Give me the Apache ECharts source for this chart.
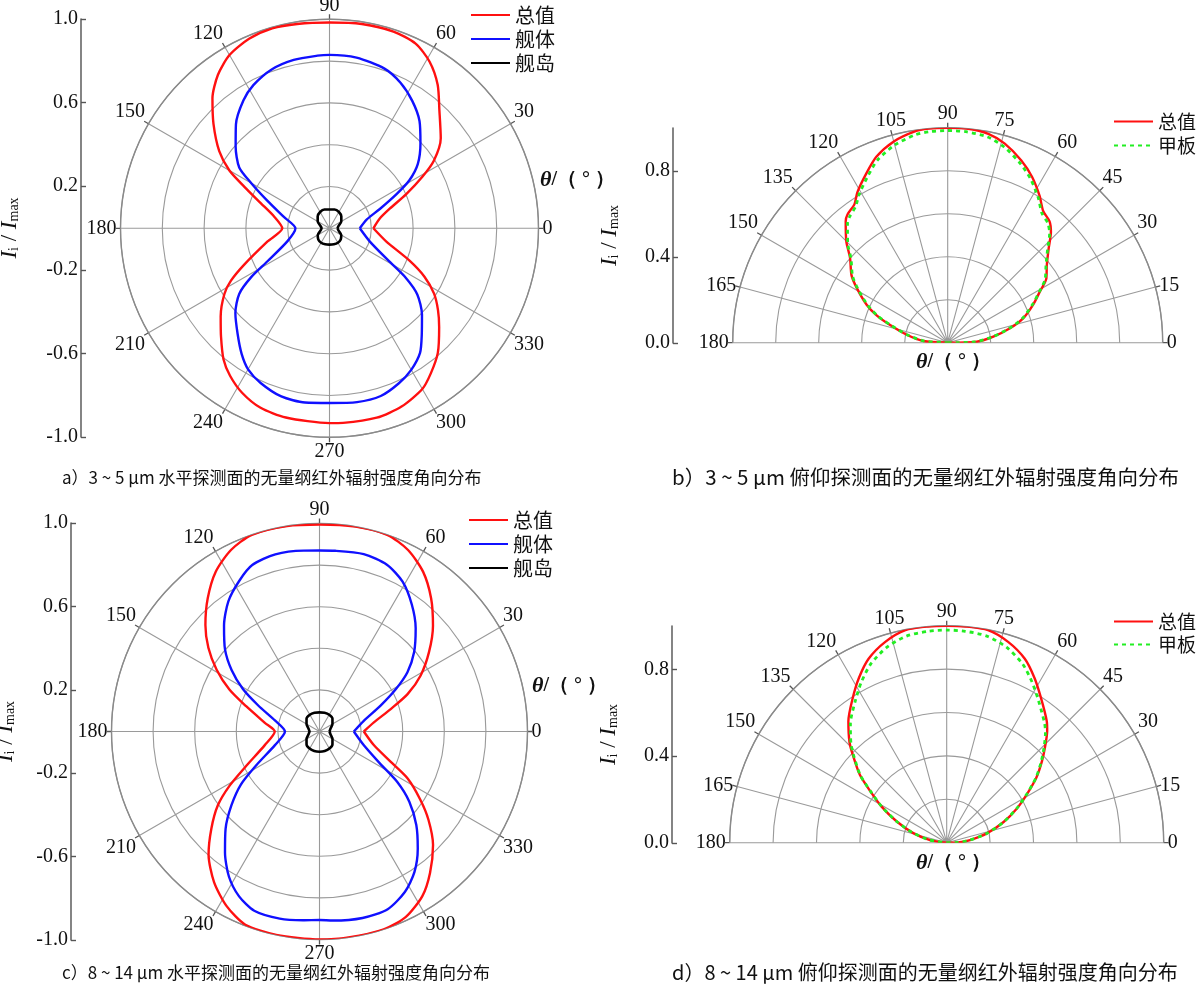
<!DOCTYPE html>
<html>
<head>
<meta charset="utf-8">
<script src="https://cdn.jsdelivr.net/npm/echarts@6/dist/echarts.min.js"></script>
<style>html,body{margin:0;padding:0;background:#fff}#c{width:1200px;height:991px}</style>
</head>
<body>
<div id="c"></div>
<script>
// ---------- data: [angle (deg), I/Imax] ----------
const a_total = [[0,0.21],[11,0.245],[18,0.303],[24,0.402],[29,0.508],[33,0.596],[39,0.685],[47,0.771],[53,0.86],[59,0.93],[65,0.975],[72,0.99],[81,0.99],[90,0.985],
  [99,0.99],[106,0.995],[113,0.985],[120,0.957],[126,0.908],[132,0.837],[138,0.747],[145,0.644],[150,0.553],[154,0.453],[160,0.349],[168,0.271],[180,0.226],
  [192,0.303],[203,0.442],[208,0.534],[212,0.593],[219,0.67],[225,0.734],[231,0.806],[236,0.851],[242,0.891],[249,0.92],[257,0.929],[270,0.932],
  [274,0.933],[284,0.934],[292,0.92],[300,0.888],[305,0.846],[311,0.79],[318,0.706],[323,0.65],[328,0.59],[333,0.51],[338,0.413],[347,0.278],[360,0.21]];
const a_hull = [[0,0.145],[13,0.181],[21,0.258],[27,0.36],[31,0.446],[36,0.522],[43,0.595],[50,0.67],[57,0.727],[64,0.775],[71,0.808],[81,0.827],[90,0.83],
  [94,0.828],[102,0.824],[110,0.809],[118,0.776],[124,0.737],[132,0.669],[139,0.595],[146,0.521],[150,0.432],[156,0.326],[166,0.225],[180,0.163],
  [197,0.21],[208,0.336],[212,0.443],[216,0.534],[222,0.606],[229,0.67],[235,0.733],[240,0.779],[246,0.81],[254,0.837],[262,0.842],[270,0.836],
  [279,0.842],[287,0.839],[294,0.813],[300,0.782],[306,0.737],[311,0.673],[317,0.605],[323,0.526],[327,0.436],[331,0.327],[342,0.202],[360,0.145]];
const a_island = [[0,0.038],[15,0.045],[30,0.065],[45,0.08],[60,0.09],[75,0.093],[90,0.09],[105,0.093],[120,0.09],[135,0.08],[150,0.065],[165,0.045],[180,0.038],
  [195,0.045],[210,0.065],[225,0.076],[240,0.08],[255,0.079],[270,0.078],[285,0.079],[300,0.08],[315,0.076],[330,0.065],[345,0.045],[360,0.038]];

const b_total = [[0,0],[2,0.135],[7.5,0.214],[13,0.297],[18,0.37],[24,0.435],[29,0.49],[33,0.547],[38,0.585],[43,0.642],[47,0.704],[50,0.737],[54,0.756],[58,0.806],[63,0.865],[68,0.914],[74,0.963],[79,0.99],[85,1.0],[90,1.0],
  [95,1.0],[99,0.994],[105,0.969],[111,0.926],[116,0.87],[121,0.816],[124,0.776],[128,0.757],[130,0.738],[135,0.667],[139,0.602],[145,0.546],[149,0.493],[155,0.415],[159,0.354],[163,0.28],[169,0.194],[176,0.113],[180,0]];
const b_deck = [[0,0],[2,0.13],[7.5,0.21],[13,0.292],[18,0.365],[24,0.43],[29,0.487],[33,0.54],[38,0.58],[43,0.635],[47,0.695],[50,0.725],[54,0.745],[58,0.795],[63,0.852],[68,0.9],[74,0.948],[79,0.975],[85,0.985],[90,0.987],
  [95,0.985],[99,0.978],[105,0.952],[111,0.91],[116,0.855],[121,0.802],[124,0.765],[128,0.742],[130,0.725],[135,0.658],[139,0.596],[145,0.54],[149,0.488],[155,0.41],[159,0.35],[163,0.276],[169,0.19],[176,0.11],[180,0]];

const c_total = [[0,0.213],[9.5,0.265],[17.5,0.359],[23,0.46],[29,0.556],[36,0.651],[43,0.746],[50,0.835],[57,0.915],[64,0.971],[71,1.0],[80,1.0],[90,0.995],
  [99,1.0],[109,1.0],[116,0.971],[123,0.916],[130,0.836],[137,0.75],[143,0.669],[149,0.577],[155,0.478],[161,0.373],[171,0.266],[180,0.215],
  [194,0.271],[205,0.387],[211,0.503],[216,0.604],[222,0.7],[228,0.797],[235,0.884],[242,0.951],[249,0.995],[258,1.0],[270,1.0],
  [278,1.0],[288,1.0],[295,0.983],[302,0.933],[308,0.863],[315,0.772],[321,0.674],[326,0.584],[332,0.479],[337,0.371],[346,0.269],[360,0.213]];
const c_hull = [[0,0.165],[13.6,0.219],[23,0.319],[29,0.419],[34,0.51],[40,0.594],[47,0.678],[54,0.755],[61,0.824],[68,0.865],[76,0.879],[85,0.872],[90,0.87],
  [95,0.873],[104,0.878],[112,0.863],[118,0.821],[125,0.764],[132,0.686],[139,0.602],[145,0.516],[151,0.421],[157,0.32],[166,0.221],[180,0.166],
  [197,0.224],[208,0.343],[214,0.456],[220,0.553],[226,0.65],[232,0.738],[238,0.822],[244,0.882],[250,0.917],[258,0.92],[265,0.911],[270,0.906],
  [274,0.911],[283,0.92],[291,0.915],[298,0.874],[304,0.816],[310,0.735],[316,0.647],[322,0.548],[327,0.446],[332,0.331],[343,0.222],[360,0.165]];
const c_island = [[0,0.048],[15,0.055],[30,0.072],[45,0.088],[60,0.093],[75,0.093],[90,0.092],[105,0.093],[120,0.093],[135,0.088],[150,0.072],[165,0.055],[180,0.048],
  [195,0.055],[210,0.072],[225,0.088],[240,0.095],[255,0.097],[270,0.097],[285,0.097],[300,0.095],[315,0.088],[330,0.072],[345,0.055],[360,0.048]];

const d_total = [[0,0],[1,0.05],[6.5,0.108],[13,0.19],[20,0.279],[26,0.36],[31,0.43],[36,0.511],[40.5,0.577],[44,0.629],[48,0.692],[50.5,0.725],[57,0.797],[62,0.861],[67,0.921],[73,0.968],[79,0.998],[85,1.0],[90,1.0],
  [95,1.0],[101,0.998],[107,0.968],[113,0.921],[118,0.861],[123,0.795],[129,0.72],[134,0.645],[137,0.591],[142,0.508],[146,0.425],[151,0.343],[157,0.25],[164,0.16],[171,0.078],[180,0]];
const d_deck = [[0,0],[1,0.05],[6.5,0.108],[13,0.19],[20,0.279],[26,0.358],[31,0.428],[36,0.508],[40.5,0.572],[44,0.622],[48,0.68],[50.5,0.71],[57,0.778],[62,0.838],[67,0.895],[73,0.942],[79,0.97],[85,0.978],[90,0.98],
  [95,0.978],[101,0.97],[107,0.942],[113,0.895],[118,0.838],[123,0.775],[129,0.705],[134,0.635],[137,0.585],[142,0.505],[146,0.423],[151,0.342],[157,0.25],[164,0.16],[171,0.078],[180,0]];

const fullTicks = {min: 0, max: 360, interval: 30};
const halfTicks = {min: 0, max: 180, interval: 15};
const legendFull = ['总值', '舰体', '舰岛'];
const legendHalf = ['总值', '甲板'];
const captions = [
  'a）3 ~ 5 μm 水平探测面的无量纲红外辐射强度角向分布',
  'b）3 ~ 5 μm 俯仰探测面的无量纲红外辐射强度角向分布',
  'c）8 ~ 14 μm 水平探测面的无量纲红外辐射强度角向分布',
  'd）8 ~ 14 μm 俯仰探测面的无量纲红外辐射强度角向分布'
];

// ---------- styling ----------
const NUM = 'Liberation Serif';
const CJK = 'Noto Sans CJK SC';
const GRID = '#9a9a9a';
const TXT = '#111';

function angleAxis(idx, full) {
  const t = full ? fullTicks : halfTicks;
  return {
    polarIndex: idx, type: 'value', min: t.min, max: t.max, interval: t.interval,
    startAngle: 0, endAngle: full ? 360 : 180, clockwise: false,
    axisLine: {lineStyle: {color: '#8a8a8a', width: 1.4}},
    axisTick: {show: true, length: 5, lineStyle: {color: '#555', width: 1.3}},
    axisLabel: {margin: 4, fontFamily: NUM, fontSize: 20, color: TXT,
      formatter: v => (full && v === 360) ? '' : String(v)},
    splitLine: {show: true, lineStyle: {color: GRID, width: 1.1}}
  };
}
function radiusAxis(idx) {
  return {
    polarIndex: idx, type: 'value', min: 0, max: 1, interval: 0.2,
    axisLine: {show: false}, axisTick: {show: false}, axisLabel: {show: false},
    splitLine: {show: true, lineStyle: {color: GRID, width: 1.1}}
  };
}
const yName = '{i|I}{s|i}{n| / }{i|I}{s|max}';
const yNameStyle = {
  rich: {
    i: {fontFamily: NUM, fontStyle: 'italic', fontSize: 23, color: TXT},
    n: {fontFamily: NUM, fontSize: 23, color: TXT},
    s: {fontFamily: NUM, fontSize: 14, color: TXT, verticalAlign: 'bottom', padding: [9, 0, 0, 0]}
  }
};
function yAxis(idx, min, max, interval, hideMax, gap) {
  return {
    gridIndex: idx, type: 'value', min, max, interval, position: 'left',
    axisLine: {show: true, lineStyle: {color: '#666', width: 1.6}},
    axisTick: {show: true, inside: true, length: 5, lineStyle: {color: '#555', width: 1.4}},
    axisLabel: {margin: 3, fontFamily: NUM, fontSize: 20, color: TXT,
      showMaxLabel: !hideMax, formatter: v => v.toFixed(1)},
    splitLine: {show: false},
    name: yName, nameLocation: 'middle', nameRotate: 90, nameGap: gap, nameTextStyle: yNameStyle
  };
}
function xAxis(idx) {
  return {gridIndex: idx, type: 'value', show: false};
}
function line(name, src, polarIndex, color, width, dashed) {
  return {
    type: 'line', name, coordinateSystem: 'polar', polarIndex,
    data: src.map(p => [p[1], p[0]]),
    symbol: 'none', smooth: 0.25, silent: true,
    lineStyle: {color, width, type: dashed ? [4, 4] : 'solid'},
    itemStyle: {color}
  };
}
function legend(data, left, top, gap, size) {
  return {
    data, orient: 'vertical', left, top, padding: 0, itemWidth: 39, itemHeight: 14, itemGap: gap,
    itemStyle: {opacity: 0},
    lineStyle: {width: 2},
    textStyle: {fontFamily: CJK, fontSize: size, color: TXT, fontWeight: 'normal'},
    selectedMode: false
  };
}
const thetaStyle = {
  rich: {t: {fontFamily: NUM, fontStyle: 'italic', fontSize: 22, color: TXT},
         r: {fontFamily: NUM, fontSize: 20, color: TXT}}
};
function theta(left, top) {
  return {text: '{t|θ}{r|/（ ° ）}', left, top, textStyle: thetaStyle, padding: 0};
}
function caption(text, left, top, size) {
  return {text, left, top, padding: 0,
    textStyle: {fontFamily: CJK, fontSize: size, fontWeight: 'normal', color: TXT}};
}

const option = {
  backgroundColor: '#fff',
  animation: false,
  title: [
    caption(captions[0], 62, 469, 17), caption(captions[1], 672, 467, 20.5),
    caption(captions[2], 62, 964, 17), caption(captions[3], 672, 962, 20),
    theta(540, 169), theta(916, 351), theta(532, 675), theta(916, 852)
  ],
  legend: [
    legend(legendFull, 470, 5, 4, 20),
    legend(legendHalf, 1113, 112, 5, 19),
    legend(legendFull, 468, 510, 4, 20),
    legend(legendHalf, 1113, 612, 4, 19)
  ],
  polar: [
    {center: [329.5, 228.3], radius: 209},
    {center: [947.7, 342.7], radius: 215},
    {center: [319.5, 731.5], radius: 208},
    {center: [946.7, 842.7], radius: 217}
  ],
  angleAxis: [angleAxis(0, true), angleAxis(1, false), angleAxis(2, true), angleAxis(3, false)],
  radiusAxis: [radiusAxis(0), radiusAxis(1), radiusAxis(2), radiusAxis(3)],
  grid: [
    {left: 80, top: 19, width: 1, height: 418},
    {left: 673, top: 128, width: 1, height: 215},
    {left: 70, top: 523, width: 1, height: 417},
    {left: 672, top: 626, width: 1, height: 217}
  ],
  xAxis: [xAxis(0), xAxis(1), xAxis(2), xAxis(3)],
  yAxis: [
    yAxis(0, -1, 1, 0.4, false, 60),
    yAxis(1, 0, 1, 0.4, true, 52),
    yAxis(2, -1, 1, 0.4, false, 54),
    yAxis(3, 0, 1, 0.4, true, 52)
  ],
  series: [
    line('总值', a_total, 0, '#ff1010', 2.4),
    line('舰体', a_hull, 0, '#1010ff', 2.4),
    line('舰岛', a_island, 0, '#000000', 2.6),
    line('总值', b_total, 1, '#ff1010', 2.4),
    line('甲板', b_deck, 1, '#22ee22', 2.8, true),
    line('总值', c_total, 2, '#ff1010', 2.4),
    line('舰体', c_hull, 2, '#1010ff', 2.4),
    line('舰岛', c_island, 2, '#000000', 2.6),
    line('总值', d_total, 3, '#ff1010', 2.4),
    line('甲板', d_deck, 3, '#22ee22', 2.8, true)
  ]
};
const chart = echarts.init(document.getElementById('c'), null, {renderer: 'canvas'});
chart.setOption(option);
</script>
</body>
</html>
